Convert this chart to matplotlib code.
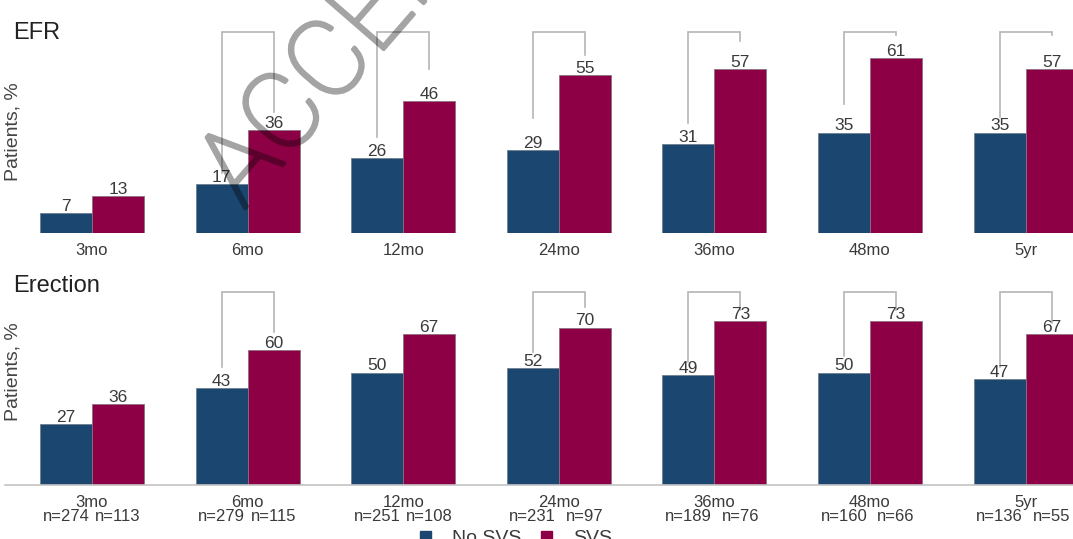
import matplotlib
matplotlib.use("Agg")
import matplotlib.pyplot as plt
import matplotlib.patheffects as pe
from matplotlib.patches import Patch
import numpy as np

plt.rcParams['font.family'] = ['Liberation Sans', 'DejaVu Sans']

# --- data ---
timepoints = ['3mo', '6mo', '12mo', '24mo', '36mo', '48mo', '5yr']
efr_no_svs = [7, 17, 26, 29, 31, 35, 35]
efr_svs = [13, 36, 46, 55, 57, 61, 57]
erec_no_svs = [27, 43, 50, 52, 49, 50, 47]
erec_svs = [36, 60, 67, 70, 73, 73, 67]
n_no_svs = [274, 279, 251, 231, 189, 160, 136]
n_svs = [113, 115, 108, 97, 76, 66, 55]

# significance brackets: group index, leg ends (in %), bracket top (in %)
efr_br_groups = [1, 2, 3, 4, 5, 6]
efr_br_left = [21, 33.5, 40, 38.5, 45, 40.5]
efr_br_right = [42, 57, 62, 67, 69, 69]
efr_br_top = 70
erec_br_groups = [1, 3, 4, 5, 6]
erec_br_left = [52.5, 59, 54.5, 57.5, 52.5]
erec_br_right = [68, 79, 78, 78, 72]
erec_br_top = 86

BLUE = '#1b466f'
RED = '#8e0046'
TXT = '#3a3a3a'
BRK = '#b5b5b5'
W = 0.334

fig = plt.figure(figsize=(10.73, 5.39), dpi=100)
ax1 = fig.add_axes([0.0047, 0.5677, 0.9953, 0.4323])
ax2 = fig.add_axes([0.0047, 0.1002, 0.9953, 0.3989])
x = np.arange(len(timepoints))


def draw_panel(ax, a, b, groups, left, right, top, ymax):
    r1 = ax.bar(x - W / 2, a, W, color=BLUE, edgecolor='#6f7f8f', linewidth=0.6)
    r2 = ax.bar(x + W / 2, b, W, color=RED, edgecolor='#8f6f7f', linewidth=0.6)
    for rects in (r1, r2):
        for r in rects:
            h = r.get_height()
            ax.annotate(f'{h:g}', (r.get_x() + r.get_width() / 2, h),
                        xytext=(0, 1.5), textcoords='offset points',
                        ha='center', va='baseline', fontsize=12.5, color=TXT)
    for g, l, rr in zip(groups, left, right):
        ax.plot([g - W / 2, g - W / 2, g + W / 2, g + W / 2], [l, top, top, rr],
                color=BRK, lw=1.2, solid_joinstyle='miter', zorder=1)
    ax.set_xlim(-0.559, 6.305)
    ax.set_ylim(0, ymax)
    ax.set_yticks([])
    ax.set_xticks(x)
    ax.set_xticklabels(timepoints, fontsize=12, color=TXT)
    ax.tick_params(axis='x', length=0, pad=7)
    for s in ax.spines.values():
        s.set_visible(False)


draw_panel(ax1, efr_no_svs, efr_svs, efr_br_groups, efr_br_left, efr_br_right,
           efr_br_top, 81.2)
draw_panel(ax2, erec_no_svs, erec_svs, erec_br_groups, erec_br_left, erec_br_right,
           erec_br_top, 95.6)
ax2.spines['bottom'].set_visible(True)
ax2.spines['bottom'].set_color('#c4c4c4')
ax2.spines['bottom'].set_linewidth(1.2)

# sample sizes under each bar
for i in range(len(timepoints)):
    for dx, n in ((-W / 2, n_no_svs[i]), (W / 2, n_svs[i])):
        ax2.annotate(f'n={n}', (x[i] + dx, 0), xytext=(0, -17.3),
                     textcoords='offset points', ha='center', va='top',
                     fontsize=12, color=TXT)

fig.text(0.0121, 0.9388, 'EFR', fontsize=17, color='#222222', va='center')
fig.text(0.0121, 0.4694, 'Erection', fontsize=17, color='#222222', va='center')
fig.text(0.0117, 0.755, 'Patients, %', rotation=90, fontsize=14, color='#444444',
         ha='center', va='center')
fig.text(0.0117, 0.31, 'Patients, %', rotation=90, fontsize=14, color='#444444',
         ha='center', va='center')

fig.legend(handles=[Patch(color=BLUE), Patch(color=RED)], labels=['No SVS', 'SVS'],
           loc='upper center', bbox_to_anchor=(0.481, 0.034), ncol=2,
           frameon=False, fontsize=14, handlelength=0.55, handleheight=0.55,
           handletextpad=1.1, columnspacing=1.0, borderpad=0, labelcolor=TXT)


def fade(im, dpi):
    # draw the stamp opaque black, then make the whole layer uniformly translucent
    im[..., :3] = 0
    im[..., 3] *= 0.36
    return im, 0, 0


# diagonal stamp across the top panel
stamp = fig.text(244 / 1073, 1 - 210 / 539, 'ACCEPTED', fontsize=77, rotation=49,
                 rotation_mode='anchor', ha='left', va='baseline',
                 family=['Roboto', 'Lato', 'DejaVu Sans'], fontweight='light',
                 color='black', zorder=10,
                 path_effects=[pe.Stroke(linewidth=2.6, foreground='black'),
                               pe.Normal()])
stamp.set_agg_filter(fade)

fig.savefig('out.png', dpi=100)
